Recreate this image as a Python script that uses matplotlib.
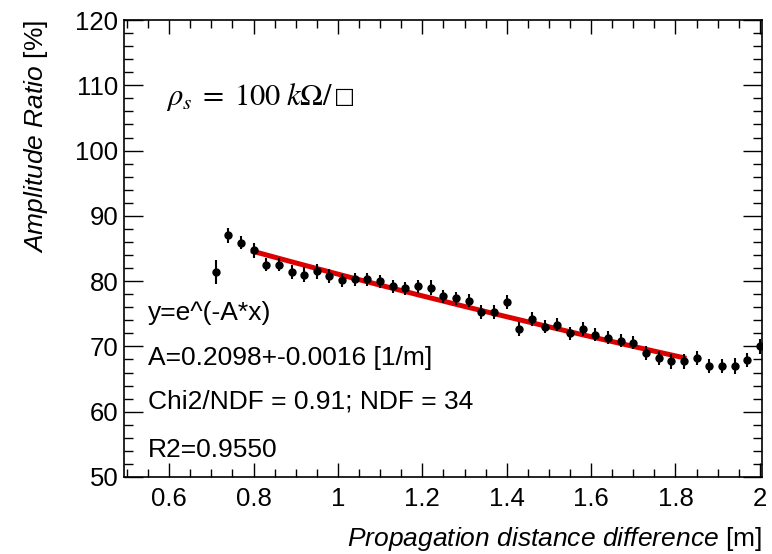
import numpy as np
import matplotlib.pyplot as plt
from matplotlib.ticker import MultipleLocator

# measured points
dist = [0.71, 0.74, 0.77, 0.80, 0.83, 0.86, 0.89, 0.92, 0.95, 0.98,
        1.01, 1.04, 1.07, 1.10, 1.13, 1.16, 1.19, 1.22, 1.25, 1.28,
        1.31, 1.34, 1.37, 1.40, 1.43, 1.46, 1.49, 1.52, 1.55, 1.58,
        1.61, 1.64, 1.67, 1.70, 1.73, 1.76, 1.79, 1.82, 1.85, 1.88,
        1.91, 1.94, 1.97, 2.00]
ratio = [81.4, 87.0, 85.9, 84.7, 82.5, 82.5, 81.4, 81.0, 81.5, 80.8,
         80.1, 80.3, 80.3, 80.0, 79.2, 78.9, 79.2, 79.0, 77.7, 77.4,
         77.0, 75.3, 75.3, 76.8, 72.7, 74.2, 73.0, 73.3, 72.0, 72.7,
         71.8, 71.3, 70.9, 70.6, 69.0, 68.2, 67.7, 67.7, 68.2, 67.0,
         67.0, 67.0, 67.9, 70.0]
ratio_err = [1.8, 1.2, 1.0, 1.1, 1.0, 1.0, 1.1, 1.1, 1.1, 1.1,
             1.0, 1.0, 1.0, 1.0, 1.0, 1.0, 1.0, 1.1, 1.0, 1.0,
             1.0, 1.1, 1.1, 1.1, 1.1, 1.1, 1.0, 1.0, 1.0, 1.1,
             1.0, 1.0, 1.0, 1.0, 1.1, 1.1, 1.1, 1.1, 1.1, 1.1,
             1.1, 1.2, 1.1, 1.2]

# fit result
A_fit = 0.2098
fit_lo, fit_hi = 0.80, 1.82
fit_lines = ["y=e^(-A*x)", "A=0.2098+-0.0016 [1/m]",
             "Chi2/NDF = 0.91; NDF = 34", "R2=0.9550"]
fit_line_y = [313, 358, 402, 450]  # pixel rows

plt.rcParams['font.family'] = ['Liberation Sans', 'DejaVu Sans']
plt.rcParams['mathtext.fontset'] = 'custom'
plt.rcParams['mathtext.rm'] = 'Liberation Sans'
plt.rcParams['mathtext.it'] = 'Liberation Sans:italic'

W, H = 772, 554
fig = plt.figure(figsize=(W / 100, H / 100), dpi=100)
x0, x1, y0, y1 = 124, 762, 20, 477
ax = fig.add_axes([x0 / W, 1 - y1 / H, (x1 - x0) / W, (y1 - y0) / H])

def axfrac(px, py):
    return (px - x0) / (x1 - x0), (y1 - py) / (y1 - y0)

xf = np.linspace(fit_lo, fit_hi, 200)
ax.plot(xf, 100 * np.exp(-A_fit * xf), color='#dd0000', lw=3.6, zorder=2)
ax.errorbar(dist, ratio, yerr=ratio_err, fmt='o', color='black', ms=5,
            elinewidth=1.5, capsize=0, zorder=3)

ax.set_xlim(0.493, 2.005)
ax.set_ylim(50, 120)
ax.xaxis.set_major_locator(MultipleLocator(0.2))
ax.xaxis.set_minor_locator(MultipleLocator(0.05))
ax.yaxis.set_major_locator(MultipleLocator(10))
ax.yaxis.set_minor_locator(MultipleLocator(2))
ax.xaxis.set_major_formatter(plt.FuncFormatter(lambda v, p: f"{v:g}"))
ax.tick_params(which='both', direction='in', top=True, right=True,
               labelsize=18.5, width=1)
ax.tick_params(axis='y', which='major', length=13.7, pad=4)
ax.tick_params(axis='y', which='minor', length=6.5)
ax.tick_params(axis='x', which='major', length=10, pad=7)
ax.tick_params(axis='x', which='minor', length=5.5)
for s in ax.spines.values():
    s.set_linewidth(1.2)

ax.set_ylabel(r'$\mathit{Amplitude\ Ratio}$ [%]', fontsize=19, loc='top')
ax.yaxis.label.set_va('center')
ax.yaxis.set_label_coords(axfrac(36, 0)[0], 1.0)
ax.set_xlabel(r'$\mathit{Propagation\ distance\ difference}$ [m]',
              fontsize=19, loc='right')
ax.xaxis.label.set_va('center')
ax.xaxis.set_label_coords(1.0, axfrac(0, 539)[1])

rho = ax.text(*axfrac(166, 97), r'$\rho_s\;=\;100\;k\Omega/$',
              transform=ax.transAxes, fontsize=22, va='center', ha='left',
              math_fontfamily='stix')
ax.annotate('\u25a1', xy=(1, 0.5), xycoords=rho, xytext=(1, 0),
            textcoords='offset points', fontsize=16, va='center', ha='left',
            family=['DejaVu Sans'])
for line, py in zip(fit_lines, fit_line_y):
    ax.text(*axfrac(148, py), line, transform=ax.transAxes,
            fontsize=19, va='center', ha='left')

fig.savefig('out.png', dpi=100)
